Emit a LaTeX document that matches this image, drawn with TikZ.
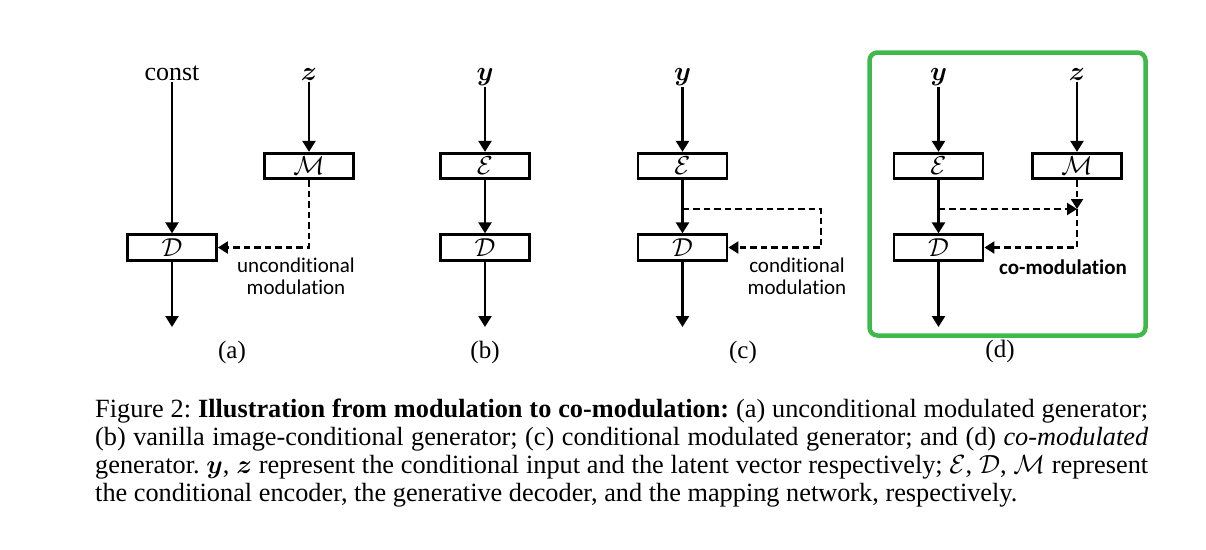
\RequirePackage{fix-cm}
\documentclass[tikz,border=0pt]{standalone}
\usepackage{amsmath}
\usepackage{fontspec}
\setmainfont{Liberation Serif}
\newfontfamily\calibri[Ligatures={NoCommon}]{Carlito}
\usetikzlibrary{arrows.meta}
\definecolor{boxgreen}{RGB}{64,185,75}
\begin{document}
\begin{tikzpicture}[x=1pt,y=-1pt,
  blk/.style={draw,line width=2.8pt,minimum width=89pt,minimum height=25.5pt,inner sep=0pt,
    font=\fontsize{26}{28}\selectfont},
  arr/.style={line width=2.4pt,-{Triangle[width=13pt,length=11pt]}},
  darr/.style={line width=2.3pt,dash pattern=on 6.5pt off 4pt,-{Triangle[width=12pt,length=10pt]}},
  inp/.style={inner sep=2pt,anchor=base,font=\fontsize{27}{30}\selectfont},
  cst/.style={inner sep=2pt,anchor=base,font=\fontsize{26}{30}\selectfont},
  modlbl/.style={align=center,inner sep=0pt,font=\calibri\fontsize{21}{22}\selectfont},
  sublbl/.style={inner sep=0pt,font=\fontsize{25}{28}\selectfont},
  captext/.style={inner sep=0pt,anchor=base west,text height=18pt,text depth=5pt,
    font=\frenchspacing\fontsize{26.3}{28.3}\selectfont}]
\useasboundingbox (0,0) rectangle (1206,549);

% ---------- (a)
\node[cst] (ca) at (172,80) {const};
\node[inp] (za) at (309,80) {$\boldsymbol{z}$};
\node[blk] (Ma) at (309,166) {$\mathcal{M}$};
\node[blk] (Da) at (172,247.5) {$\mathcal{D}$};
\coordinate (oa) at (172,327);
\draw[arr] (ca) -- (Da);
\draw[arr] (za) -- (Ma);
\draw[arr] (Da) -- (oa);
\draw[darr] (Ma.south) |- (Da.east);
\node[modlbl] (ua) at (296,276) {unconditional\\modulation};
\node[sublbl] (la) at (232,352) {(a)};

% ---------- (b)
\node[inp] (yb) at (485,80) {$\boldsymbol{y}$};
\node[blk] (Eb) at (485,166) {$\mathcal{E}$};
\node[blk] (Db) at (485,247.5) {$\mathcal{D}$};
\coordinate (ob) at (485,327);
\draw[arr] (yb) -- (Eb);
\draw[arr] (Eb) -- (Db);
\draw[arr] (Db) -- (ob);
\node[sublbl] (lb) at (485,352) {(b)};

% ---------- (c)
\node[inp] (yc) at (682.5,80) {$\boldsymbol{y}$};
\node[blk] (Ec) at (682.5,166) {$\mathcal{E}$};
\node[blk] (Dc) at (682.5,247.5) {$\mathcal{D}$};
\coordinate (oc) at (682.5,327);
\coordinate (jc) at (682.5,209);
\coordinate (kc) at (821,209);
\draw[arr] (yc) -- (Ec);
\draw[arr] (Ec) -- (Dc);
\draw[arr] (Dc) -- (oc);
\draw[darr] (jc) -- (kc) |- (Dc.east);
\node[modlbl] (uc) at (797,276) {conditional\\modulation};
\node[sublbl] (lc) at (743,352) {(c)};

% ---------- (d)
\draw[line width=4.5pt,boxgreen,rounded corners=8pt] (869.5,52.5) rectangle (1145.5,335.5);
\node[inp] (yd) at (938.5,80) {$\boldsymbol{y}$};
\node[inp] (zd) at (1077,80) {$\boldsymbol{z}$};
\node[blk] (Ed) at (938.5,166) {$\mathcal{E}$};
\node[blk] (Md) at (1077,166) {$\mathcal{M}$};
\node[blk] (Dd) at (938.5,247.5) {$\mathcal{D}$};
\coordinate (od) at (938.5,327);
\coordinate (jd) at (938.5,209);
\coordinate (md) at (1077,209);
\draw[arr] (yd) -- (Ed);
\draw[arr] (zd) -- (Md);
\draw[arr] (Ed) -- (Dd);
\draw[arr] (Dd) -- (od);
\draw[darr] (jd) -- (md);
\draw[darr] (Md.south) -- (md);
\draw[darr] (md) |- (Dd.east);
\node[modlbl,font=\calibri\bfseries\fontsize{21}{22}\selectfont] (cm) at (1063,267) {co-modulation};
\node[sublbl] (ld) at (1000,351) {(d)};

% ---------- caption
\node[captext] (cap1) at (95,417) {\hbox to 1053pt{Figure 2: \textbf{Illustration from modulation to co-modulation:} (a) unconditional modulated generator;}};
\node[captext] (cap2) at (95,445.3) {\hbox to 1053pt{(b) vanilla image-conditional generator; (c) conditional modulated generator; and (d) \textit{co-modulated}}};
\node[captext] (cap3) at (95,473.6) {\hbox to 1053pt{generator. $\boldsymbol{y}$, $\boldsymbol{z}$ represent the conditional input and the latent vector respectively; $\mathcal{E}$, $\mathcal{D}$, $\mathcal{M}$ represent}};
\node[captext] (cap4) at (95,501.9) {the conditional encoder, the generative decoder, and the mapping network, respectively.};
\end{tikzpicture}
\end{document}
